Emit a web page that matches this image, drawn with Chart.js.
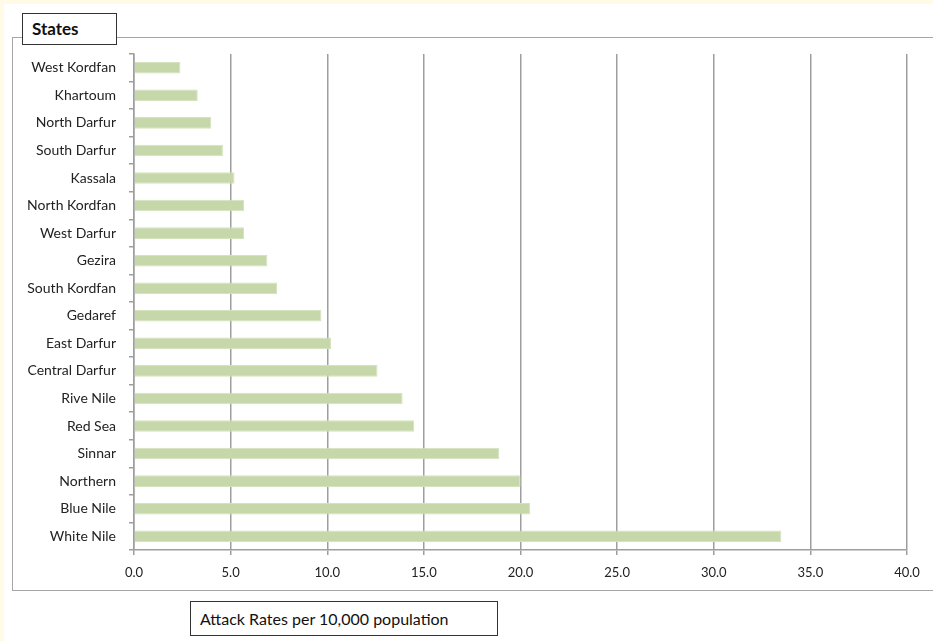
<!DOCTYPE html>
<html>
<head>
<meta charset="utf-8">
<script src="https://cdn.jsdelivr.net/npm/chart.js@4.4.1/dist/chart.umd.min.js"></script>
<style>
  html, body { margin: 0; padding: 0; overflow: hidden; }
  body { width: 933px; height: 641px; background: #fffbe6; position: relative; font-family: Lato, "Open Sans", sans-serif; }
  .sheet { position: absolute; left: 4px; top: 4px; width: 929px; height: 637px; background: #fff; overflow: hidden; }
  .frame { position: absolute; left: 8px; top: 33px; width: 1000px; height: 552px; border-top: 1.5px solid #a6a6a6; border-left: 1.5px solid #a6a6a6; border-bottom: 1.5px solid #a6a6a6; }
  #chart { position: absolute; left: 0; top: 0; }
  .box { position: absolute; background: #fff; border: 1.5px solid #333; color: #111; box-sizing: border-box; }
  .states { left: 22px; top: 13px; width: 95px; height: 32px; font-weight: bold; font-size: 17px; line-height: 29px; padding-left: 9px; }
  .xlabel { left: 190px; top: 601px; width: 308px; height: 35px; font-size: 16px; line-height: 33px; padding-left: 9px; }
</style>
</head>
<body>
<div class="sheet"><div class="frame"></div></div>
<canvas id="chart" width="933" height="641"></canvas>
<div class="box states">States</div>
<div class="box xlabel">Attack Rates per 10,000 population</div>
<script>
const states = ['West Kordfan', 'Khartoum', 'North Darfur', 'South Darfur', 'Kassala',
  'North Kordfan', 'West Darfur', 'Gezira', 'South Kordfan', 'Gedaref', 'East Darfur',
  'Central Darfur', 'Rive Nile', 'Red Sea', 'Sinnar', 'Northern', 'Blue Nile', 'White Nile'];
const attackRates = [2.4, 3.3, 4.0, 4.6, 5.2, 5.7, 5.7, 6.9, 7.4, 9.7, 10.2,
  12.6, 13.9, 14.5, 18.9, 20.0, 20.5, 33.5];
const xTicks = [0, 5, 10, 15, 20, 25, 30, 35, 40];

const ctx = document.getElementById('chart');
new Chart(ctx, {
  type: 'bar',
  data: {
    labels: states,
    datasets: [{
      data: attackRates,
      backgroundColor: '#c6d8aa',
      borderColor: '#d4e2bd',
      borderWidth: 1,
      categoryPercentage: 1,
      barPercentage: 0.42
    }]
  },
  options: {
    indexAxis: 'y',
    responsive: false,
    animation: false,
    layout: { padding: { top: 54, left: 0, right: 26, bottom: 0 } },
    plugins: { legend: { display: false }, tooltip: { enabled: false } },
    scales: {
      x: {
        min: xTicks[0],
        max: xTicks[xTicks.length - 1],
        afterBuildTicks: scale => { scale.ticks = xTicks.map(v => ({ value: v })); },
        afterFit: scale => { scale.height = 91; },
        grid: { color: '#9e9e9e', lineWidth: 1.5, tickLength: 5 },
        border: { color: '#9e9e9e', width: 1.5 },
        ticks: {
          callback: v => Number(v).toFixed(1),
          color: '#222',
          padding: 10,
          font: { family: 'Lato', size: 13 }
        }
      },
      y: {
        afterFit: scale => { scale.width = 134; },
        grid: { drawOnChartArea: false, color: '#9e9e9e', lineWidth: 1.5, tickLength: 5, offset: true },
        border: { color: '#9e9e9e', width: 1.5 },
        ticks: {
          color: '#222',
          padding: 13,
          font: { family: 'Lato', size: 14 }
        }
      }
    }
  }
});
</script>
</body>
</html>
